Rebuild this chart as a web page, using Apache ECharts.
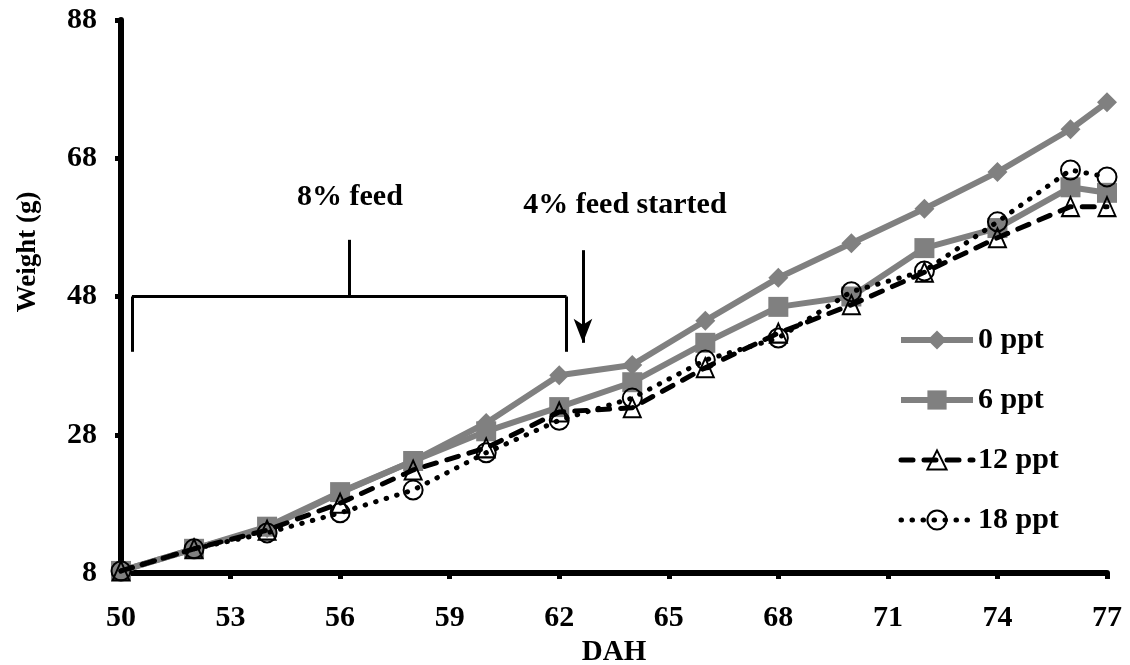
<!DOCTYPE html>
<html>
<head>
<meta charset="utf-8">
<title>Weight by DAH</title>
<script src="https://cdn.jsdelivr.net/npm/echarts@6/dist/echarts.min.js"></script>
<style>
  html, body { margin: 0; padding: 0; background: #fff; }
  #chart { width: 1130px; height: 665px; }
</style>
</head>
<body>
<div id="chart"></div>
<script>
// Days after hatch at which fish were weighed
const dah = [50, 52, 54, 56, 58, 60, 62, 64, 66, 68, 70, 72, 74, 76, 77];

// Mean weight (g) for each salinity treatment
const w0ppt  = [8.3, 11.5, 14.5, 19.6, 24.2, 29.7, 36.6, 38.1, 44.5, 50.7, 55.7, 60.7, 66.0, 72.2, 76.1];
const w6ppt  = [8.3, 11.5, 14.7, 19.7, 24.2, 28.5, 32.0, 35.6, 41.3, 46.5, 48.0, 55.0, 57.9, 63.8, 63.0];
const w12ppt = [8.3, 11.5, 14.2, 18.1, 22.9, 26.1, 31.3, 31.9, 37.7, 42.7, 46.8, 51.5, 56.5, 61.0, 61.0];
const w18ppt = [8.3, 11.5, 13.8, 16.7, 20.0, 25.4, 30.1, 33.3, 38.8, 42.0, 48.7, 51.7, 58.8, 66.3, 65.3];

const seriesNames = ['0 ppt', '6 ppt', '12 ppt', '18 ppt'];

// Axis tick values
const xTicks = [50, 53, 56, 59, 62, 65, 68, 71, 74, 77];
const yTicks = [8, 28, 48, 68, 88];

// Feeding-regime annotation anchors (data units)
const bracketX = [50.3, 62.2];
const bracketTopY = 48;
const bracketFootY = 40;
const bracketMidX = 56.25;
const bracketTickTopY = 56.2;
const arrowX = 62.65;
const arrowY = [54.7, 41.3];
const label8 = { text: '8% feed', x: 56.27, y: 62.3 };
const label4 = { text: '4% feed started', x: 63.8, y: 61.2 };

const FONT = '"Liberation Serif", "Times New Roman", serif';
const GRAY = '#808080';

const pairs = arr => dah.map((d, i) => [d, arr[i]]);

const chart = echarts.init(document.getElementById('chart'), null, { renderer: 'canvas' });

const annoLine = { color: '#000', width: 3, type: 'solid' };

const seriesStyles = [
  { symbol: 'diamond', symbolSize: 20, fill: GRAY, border: GRAY, borderWidth: 0,
    line: { color: GRAY, width: 6, type: 'solid' } },
  { symbol: 'rect', symbolSize: 20, fill: GRAY, border: GRAY, borderWidth: 0,
    line: { color: GRAY, width: 6, type: 'solid' } },
  { symbol: 'triangle', symbolSize: [17, 19], fill: 'rgba(255,255,255,0)', border: '#000', borderWidth: 2,
    line: { color: '#000', width: 5, type: [12, 11], cap: 'round' } },
  { symbol: 'circle', symbolSize: 19, fill: 'rgba(255,255,255,0)', border: '#000', borderWidth: 2,
    line: { color: '#000', width: 5, type: [0.5, 10.5], cap: 'round' } }
];
const seriesData = [w0ppt, w6ppt, w12ppt, w18ppt];

const lineSeries = seriesNames.map((name, i) => {
  const s = seriesStyles[i];
  return {
    name: name,
    type: 'line',
    data: pairs(seriesData[i]),
    clip: false,
    symbol: s.symbol,
    symbolSize: s.symbolSize,
    color: s.border,
    itemStyle: { color: s.fill, borderColor: s.border, borderWidth: s.borderWidth },
    lineStyle: s.line,
    z: 2 + i
  };
});

chart.setOption({
  animation: false,
  backgroundColor: '#fff',
  grid: { left: 121, right: 23, top: 20, bottom: 92, containLabel: false, outerBoundsMode: 'none' },
  legend: {
    orient: 'vertical',
    left: 898,
    top: 325,
    padding: 0,
    itemWidth: 72,
    itemHeight: 24,
    itemGap: 30,
    data: seriesNames.map((name, i) => ({
      name: name,
      itemStyle: {
        color: seriesStyles[i].fill,
        borderColor: seriesStyles[i].border,
        borderWidth: seriesStyles[i].borderWidth
      },
      lineStyle: seriesStyles[i].line
    })),
    textStyle: { fontFamily: FONT, fontWeight: 'bold', fontSize: 30, color: '#000' },
    selectedMode: false
  },
  xAxis: {
    type: 'value',
    min: 50,
    max: 77,
    name: 'DAH',
    nameLocation: 'middle',
    nameGap: 60,
    nameTextStyle: { fontFamily: FONT, fontWeight: 'bold', fontSize: 29, color: '#000' },
    axisLine: { show: true, onZero: false, lineStyle: { color: '#000', width: 6 } },
    axisTick: { show: true, length: 6, lineStyle: { color: '#000', width: 5 }, customValues: xTicks },
    axisLabel: { fontFamily: FONT, fontWeight: 'bold', fontSize: 30, color: '#000', margin: 30, customValues: xTicks },
    splitLine: { show: false }
  },
  yAxis: {
    type: 'value',
    min: 8,
    max: 88,
    axisLine: { show: true, onZero: false, lineStyle: { color: '#000', width: 6 } },
    axisTick: { show: true, length: 6, lineStyle: { color: '#000', width: 5 }, customValues: yTicks },
    axisLabel: { fontFamily: FONT, fontWeight: 'bold', fontSize: 30, color: '#000', margin: 24, customValues: yTicks },
    splitLine: { show: false }
  },
  graphic: [{
    type: 'text',
    x: 28,
    y: 252,
    rotation: Math.PI / 2,
    style: {
      text: 'Weight (g)',
      font: 'bold 27px ' + FONT,
      fill: '#000',
      align: 'center',
      verticalAlign: 'middle'
    }
  }],
  series: lineSeries.concat([
    {
      // feeding-regime bracket, arrow and notes
      name: 'feeding',
      type: 'line',
      data: [],
      silent: true,
      markLine: {
        silent: true,
        symbol: ['none', 'none'],
        label: { show: false },
        lineStyle: annoLine,
        data: [
          [{ coord: [bracketX[0], bracketTopY] }, { coord: [bracketX[1], bracketTopY] }],
          [{ coord: [bracketX[0], bracketTopY] }, { coord: [bracketX[0], bracketFootY] }],
          [{ coord: [bracketX[1], bracketTopY] }, { coord: [bracketX[1], bracketFootY] }],
          [{ coord: [bracketMidX, bracketTopY] }, { coord: [bracketMidX, bracketTickTopY] }],
          [
            { coord: [arrowX, arrowY[0]], symbol: 'none' },
            { coord: [arrowX, arrowY[1]], symbol: 'arrow', symbolSize: [14, 24], symbolOffset: [0, 0] }
          ]
        ]
      },
      markPoint: {
        silent: true,
        symbol: 'rect',
        symbolSize: 1,
        itemStyle: { color: 'rgba(0,0,0,0)' },
        label: {
          show: true,
          position: 'inside',
          fontFamily: FONT,
          fontWeight: 'bold',
          fontSize: 30,
          color: '#000',
          formatter: p => p.name
        },
        data: [
          { name: label8.text, coord: [label8.x, label8.y] },
          { name: label4.text, coord: [label4.x, label4.y] }
        ]
      }
    }
  ])
});
</script>
</body>
</html>
